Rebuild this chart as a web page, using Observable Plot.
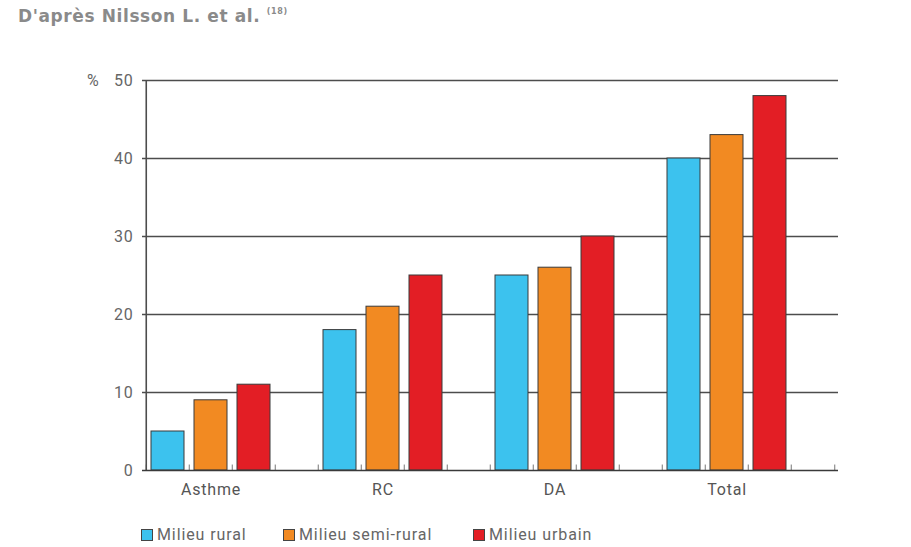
<!DOCTYPE html>
<html><head><meta charset="utf-8">
<script src="https://cdn.jsdelivr.net/npm/d3@7"></script>
<script src="https://cdn.jsdelivr.net/npm/@observablehq/plot@0.6"></script>
<style>
body{margin:0;background:#fff;width:911px;height:547px;overflow:hidden;font-family:"Roboto","Liberation Sans",sans-serif;position:relative;}
#title{height:60px;box-sizing:border-box;padding:6px 0 0 18px;font-family:"DejaVu Sans","Liberation Sans",sans-serif;font-weight:bold;font-size:17px;color:#8a8a8a;letter-spacing:0.6px;}
#title sup{font-size:8px;font-weight:bold;vertical-align:8px;}
#legend{position:relative;height:37px;font-size:16px;color:#666;letter-spacing:0.9px;}
.item{position:absolute;top:15px;display:flex;align-items:center;}
.sw{width:12px;height:12px;border:1px solid #444;margin-right:4px;box-sizing:border-box;}
</style></head>
<body>
<div id="title">D'après Nilsson L. et al. <sup>(18)</sup></div>
<div id="chart"></div>
<div id="legend"></div>
<script>
const categories = ["Asthme", "RC", "DA", "Total"];
const series = ["Milieu rural", "Milieu semi-rural", "Milieu urbain"];
const rural = [5, 18, 25, 40];
const semiRural = [9, 21, 26, 43];
const urbain = [11, 25, 30, 48];
const yTicks = [0, 10, 20, 30, 40, 50];
const colors = ["#3cc2ee", "#f28a22", "#e31e25"];

const valuesBySeries = [rural, semiRural, urbain];
const data = [];
categories.forEach((c, i) => series.forEach((s, j) => data.push({cat: c, series: s, key: c + "|" + s, value: valuesBySeries[j][i]})));
const keys = [];
categories.forEach(c => { series.forEach(s => keys.push(c + "|" + s)); keys.push(c + "|"); });
const labelData = categories.map(c => ({key: c + "|" + series[1], label: c}));
const step = (838 - 142) / keys.length;

const chart = Plot.plot({
  width: 911,
  height: 450,
  marginLeft: 142,
  marginRight: 73,
  marginTop: 20,
  marginBottom: 40,
  style: {fontFamily: '"Roboto","Liberation Sans",sans-serif', fontSize: "16px", color: "#666", background: "#fff", letterSpacing: "0.8px"},
  x: {type: "band", domain: keys, paddingInner: 0.24, paddingOuter: 0.06, axis: null},
  y: {domain: [0, 50], ticks: yTicks, tickSize: 0, tickPadding: 9, label: null,
      tickFormat: d => d === 50 ? "%\u00a0\u00a0\u00a050" : String(d)},
  color: {domain: series, range: colors},
  marks: [
    Plot.ruleY(yTicks.filter(d => d > 0), {stroke: "#4d4d4d", strokeWidth: 1.6}),
    Plot.barY(data, {x: "key", y: "value", fill: "series", stroke: "#3a3a3a", strokeWidth: 1}),
    Plot.ruleX(keys, {x: d => d, y1: 0, y2: 0.7, dx: -step / 2, stroke: "#777", strokeWidth: 1}),
    Plot.ruleX([keys[keys.length - 1]], {x: d => d, y1: 0, y2: 0.7, dx: step / 2, stroke: "#777", strokeWidth: 1}),
    Plot.ruleX([keys[0]], {x: d => d, y1: 0, y2: 50, dx: -step / 2, stroke: "#4d4d4d", strokeWidth: 1.6}),
    Plot.ruleY([0], {stroke: "#3a3a3a", strokeWidth: 1.6}),
    Plot.text(labelData, {x: "key", y: 0, text: "label", dy: 19, fill: "#555", fontSize: 16})
  ]
});
document.getElementById("chart").appendChild(chart);

const legend = document.getElementById("legend");
const lefts = [141, 283, 473];
series.forEach((s, i) => {
  const item = document.createElement("div");
  item.className = "item";
  item.style.left = lefts[i] + "px";
  const sw = document.createElement("div");
  sw.className = "sw";
  sw.style.background = colors[i];
  item.appendChild(sw);
  const t = document.createElement("span");
  t.textContent = s;
  item.appendChild(t);
  legend.appendChild(item);
});
</script>
</body></html>
